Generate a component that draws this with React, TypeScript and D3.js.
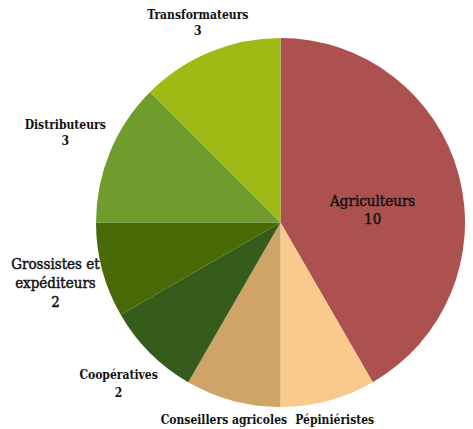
import React from "react";
import * as d3 from "d3";

// Acteurs de la filière et nombre de répondants
const categories = [
  "Agriculteurs",
  "Pépiniéristes",
  "Conseillers agricoles",
  "Coopératives",
  "Grossistes et expéditeurs",
  "Distributeurs",
  "Transformateurs",
];
const counts = [10, 2, 2, 2, 2, 3, 3];
// Whether the count is printed under the name
const showCount = [true, false, false, true, true, true, true];

const colors = ["#ad5150", "#f9ca8c", "#d0a367", "#365c1c", "#4a6a08", "#6f9c2c", "#9eba14"];

// Label layout: distance from centre, angle nudge, line breaks, font size and weight
// (the two larger labels use a medium weight, drawn as regular with a thin outline)
const labelLayout: Record<
  string,
  { r: number; nudge?: number; lines?: string[]; size: number; weight: number; lh: number; medium?: boolean }
> = {
  Agriculteurs: { r: 93, nudge: 0.13, size: 15, weight: 400, lh: 18, medium: true },
  Pépiniéristes: { r: 205, nudge: -0.006, size: 12, weight: 700, lh: 16 },
  "Conseillers agricoles": { r: 205, nudge: 0.018, size: 12, weight: 700, lh: 16 },
  Coopératives: { r: 229, size: 12, weight: 700, lh: 18 },
  "Grossistes et expéditeurs": {
    r: 233,
    lines: ["Grossistes et", "expéditeurs"],
    size: 15,
    weight: 400,
    lh: 19,
    medium: true,
  },
  Distributeurs: { r: 233, size: 12, weight: 700, lh: 16 },
  Transformateurs: { r: 216, size: 12, weight: 700, lh: 16 },
};

const W = 473;
const H = 429;
const cx = 280.5;
const cy = 222.5;
const radius = 184.5;
const FONT = "'DejaVu Serif Condensed', 'DejaVu Serif', serif";

export default function App() {
  const data = categories.map((c, i) => ({ name: c, value: counts[i], color: colors[i], showCount: showCount[i] }));
  const pie = d3.pie<(typeof data)[number]>().value((d) => d.value).sort(null);
  const arcs = pie(data);
  const arcGen = d3.arc<d3.PieArcDatum<(typeof data)[number]>>().innerRadius(0).outerRadius(radius);

  return (
    <svg
      width={W}
      height={H}
      style={{ position: "absolute", left: 0, top: 0, background: "#fff", fontFamily: FONT }}
    >
      <g transform={`translate(${cx},${cy})`}>
        {arcs.map((a) => (
          <path key={a.data.name} d={arcGen(a) ?? ""} fill={a.data.color} />
        ))}
        {arcs.map((a) => {
          const lay = labelLayout[a.data.name];
          const mid = (a.startAngle + a.endAngle) / 2 + (lay.nudge ?? 0);
          const x = lay.r * Math.sin(mid);
          const y = -lay.r * Math.cos(mid);
          const lines = [...(lay.lines ?? [a.data.name])];
          if (a.data.showCount) lines.push(String(a.data.value));
          const y0 = y - ((lines.length - 1) * lay.lh) / 2;
          return (
            <text
              key={"l" + a.data.name}
              x={x}
              y={y0}
              textAnchor="middle"
              dominantBaseline="central"
              style={{ fontFamily: FONT, fontSize: lay.size, fontWeight: lay.weight }}
              fill="#111"
              stroke={lay.medium ? "#111" : "none"}
              strokeWidth={lay.medium ? 0.45 : 0}
            >
              {lines.map((t, i) => (
                <tspan key={i} x={x} y={y0 + i * lay.lh}>
                  {t}
                </tspan>
              ))}
            </text>
          );
        })}
      </g>
    </svg>
  );
}
